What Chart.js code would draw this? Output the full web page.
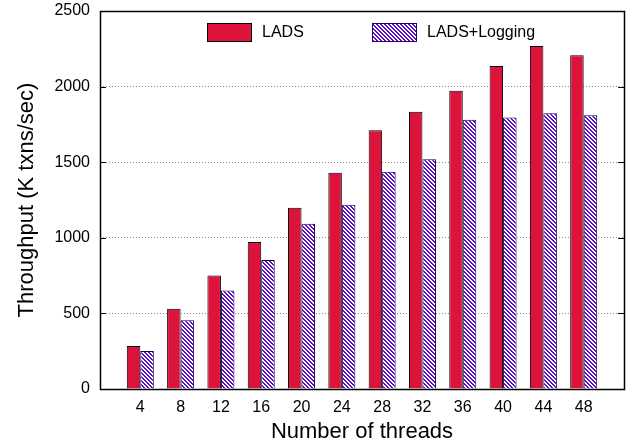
<!DOCTYPE html>
<html>
<head>
<meta charset="utf-8">
<script src="https://cdn.jsdelivr.net/npm/chart.js@4/dist/chart.umd.min.js"></script>
<style>
  html, body { margin: 0; padding: 0; background: #fff; }
  #wrap { width: 634px; height: 443px; }
</style>
</head>
<body>
<div id="wrap"><canvas id="chart"></canvas></div>
<script>
// thread counts (empty slots at both ends give gnuplot-style margins)
const threads = ['', '4', '8', '12', '16', '20', '24', '28', '32', '36', '40', '44', '48', ''];
const lads = [null, 285, 530, 750, 973, 1199, 1430, 1712, 1834, 1973, 2136, 2268, 2208, null];
const ladsLogging = [null, 252, 454, 651, 854, 1093, 1218, 1437, 1520, 1781, 1795, 1824, 1810, null];
const yTicks = [0, 500, 1000, 1500, 2000, 2500];

const FONT = 'Liberation Sans, Arial, Helvetica, sans-serif';
const RED = '#dc143c';
const PURPLE = '#5c0cc4';

// diagonal hatch for the logging bars
function makeHatch() {
  const s = 4;
  const c = document.createElement('canvas');
  c.width = s; c.height = s;
  const g = c.getContext('2d');
  g.fillStyle = '#fff';
  g.fillRect(0, 0, s, s);
  g.fillStyle = PURPLE;
  for (let i = 0; i < s; i++) {
    g.fillRect(i, i, 1, 1);
    g.fillRect((i + 1) % s, i, 1, 1);
  }
  return g.createPattern(c, 'repeat');
}
const hatch = makeHatch();

// box, inward ticks and the in-plot legend
const framePlugin = {
  id: 'frame',
  afterDatasetsDraw(chart) {
    const { ctx, chartArea: a } = chart;
    const y = chart.scales.y;
    ctx.save();
    ctx.strokeStyle = '#000';
    ctx.lineWidth = 1;
    ctx.beginPath();
    yTicks.forEach(v => {
      const py = Math.round(y.getPixelForValue(v)) + 0.5;
      ctx.moveTo(a.left, py); ctx.lineTo(a.left + 6, py);
      ctx.moveTo(a.right, py); ctx.lineTo(a.right - 6, py);
    });
    ctx.stroke();
    ctx.lineWidth = 1.5;
    ctx.strokeRect(Math.round(a.left) + 0.5, Math.round(a.top) + 0.5,
      Math.round(a.right - a.left), Math.round(a.bottom - a.top));

    // legend
    const items = [
      { label: 'LADS', fill: RED, border: '#000', x: a.left + 107, tx: a.left + 162 },
      { label: 'LADS+Logging', fill: hatch, border: '#2a0060', x: a.left + 272, tx: a.left + 327 }
    ];
    ctx.font = '16px ' + FONT;
    ctx.textBaseline = 'middle';
    items.forEach(it => {
      ctx.fillStyle = it.fill;
      ctx.fillRect(it.x, a.top + 12, 44, 18);
      ctx.lineWidth = 1;
      ctx.strokeStyle = it.border;
      ctx.strokeRect(it.x + 0.5, a.top + 12.5, 44, 18);
      ctx.fillStyle = '#000';
      ctx.fillText(it.label, it.tx, a.top + 22);
    });
    ctx.restore();
  }
};

new Chart(document.getElementById('chart'), {
  type: 'bar',
  data: {
    labels: threads,
    datasets: [
      { label: 'LADS', data: lads, backgroundColor: RED, borderColor: '#000', borderWidth: 1 },
      { label: 'LADS+Logging', data: ladsLogging, backgroundColor: hatch, borderColor: '#1a0040', borderWidth: 1 }
    ]
  },
  options: {
    responsive: true,
    maintainAspectRatio: false,
    animation: false,
    devicePixelRatio: 1,
    layout: { padding: { left: 0, right: 10, top: 11, bottom: 0 } },
    categoryPercentage: 0.67,
    barPercentage: 1,
    plugins: { legend: { display: false }, tooltip: { enabled: false } },
    scales: {
      x: {
        offset: false,
        grid: { display: false, drawTicks: false },
        border: { display: false },
        ticks: { color: '#000', font: { family: FONT, size: 16 }, padding: 9, autoSkip: false, maxRotation: 0 },
        title: { display: true, text: 'Number of threads', color: '#000', font: { family: FONT, size: 22 }, padding: { top: 0, bottom: -2 } },
        afterFit: s => { s.height = 54; s.paddingLeft = 0; s.paddingRight = 0; }
      },
      y: {
        min: 0,
        max: 2500,
        afterBuildTicks: s => { s.ticks = yTicks.map(v => ({ value: v })); },
        grid: {
          drawTicks: false,
          color: c => (c.tick && (c.tick.value === 0 || c.tick.value === 2500)) ? 'rgba(0,0,0,0)' : '#8a8a8a'
        },
        border: { display: false, dash: [1, 2] },
        ticks: { color: '#000', font: { family: FONT, size: 16 }, padding: 10, callback: v => String(v) },
        title: { display: true, text: 'Throughput (K txns/sec)', color: '#000', font: { family: FONT, size: 22 }, padding: { top: 14, bottom: 0 } },
        afterFit: s => { s.width = 100; s.paddingTop = 0; s.paddingBottom = 0; }
      }
    }
  },
  plugins: [framePlugin]
});
</script>
</body>
</html>
